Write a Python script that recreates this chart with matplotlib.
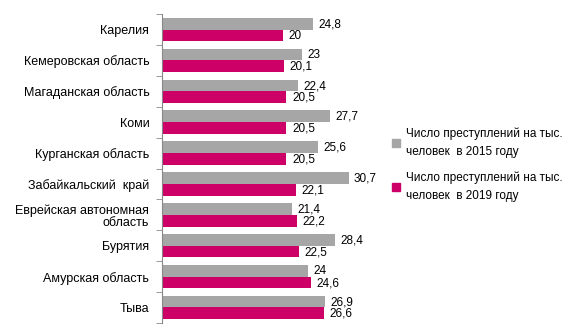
import matplotlib as mpl
mpl.use('Agg')
import matplotlib.pyplot as plt
from matplotlib.patches import Patch
import numpy as np

regions = ['Карелия', 'Кемеровская область', 'Магаданская область', 'Коми',
           'Курганская область', 'Забайкальский  край', 'Еврейская автономная\nобласть',
           'Бурятия', 'Амурская область', 'Тыва']
crimes_2015 = [24.8, 23, 22.4, 27.7, 25.6, 30.7, 21.4, 28.4, 24, 26.9]
crimes_2019 = [20, 20.1, 20.5, 20.5, 20.5, 22.1, 22.2, 22.5, 24.6, 26.6]
label_2015 = 'Число преступлений на тыс.\nчеловек  в 2015 году'
label_2019 = 'Число преступлений на тыс.\nчеловек  в 2019 году'

gray = '#a6a6a6'
pink = '#cc0066'

plt.rcParams['font.family'] = ['Liberation Sans', 'DejaVu Sans']

fig = plt.figure(figsize=(5.76, 3.36), dpi=100)
ax = fig.add_axes([0.281, 0.039, 0.38, 0.919])

y = np.arange(len(regions))
h = 0.38
ax.barh(y - h / 2, crimes_2015, height=h, color=gray)
ax.barh(y + h / 2, crimes_2019, height=h, color=pink)

def fmt(v):
    return ('%g' % v).replace('.', ',')

for i in range(len(regions)):
    ax.text(crimes_2015[i] + 0.9, y[i] - h / 2 + 0.02, fmt(crimes_2015[i]),
            va='center', ha='left', fontsize=8.5)
    ax.text(crimes_2019[i] + 0.9, y[i] + h / 2 + 0.02, fmt(crimes_2019[i]),
            va='center', ha='left', fontsize=8.5)

ax.set_ylim(len(regions) - 0.5, -0.5)
ax.set_xlim(0, 36)
ax.set_yticks(y)
ax.set_yticklabels(regions, fontsize=9, linespacing=1.1)
ax.set_yticks(np.arange(-0.5, len(regions)), minor=True)
ax.tick_params(axis='y', which='major', length=0, pad=9)
ax.tick_params(axis='y', which='minor', length=4, color='#888888')
ax.set_xticks([])
for s in ['top', 'right', 'bottom']:
    ax.spines[s].set_visible(False)
ax.spines['left'].set_color('#888888')

handles = [Patch(color=gray), Patch(color=pink)]
leg = fig.legend(handles, [label_2015, label_2019], loc='center left',
                 bbox_to_anchor=(0.662, 0.51), frameon=False, fontsize=8.5,
                 handlelength=0.7, handleheight=0.7, handletextpad=0.5,
                 labelspacing=1.2)
for t in leg.get_texts():
    t.set_linespacing(1.6)

plt.savefig('out.png', dpi=100)
